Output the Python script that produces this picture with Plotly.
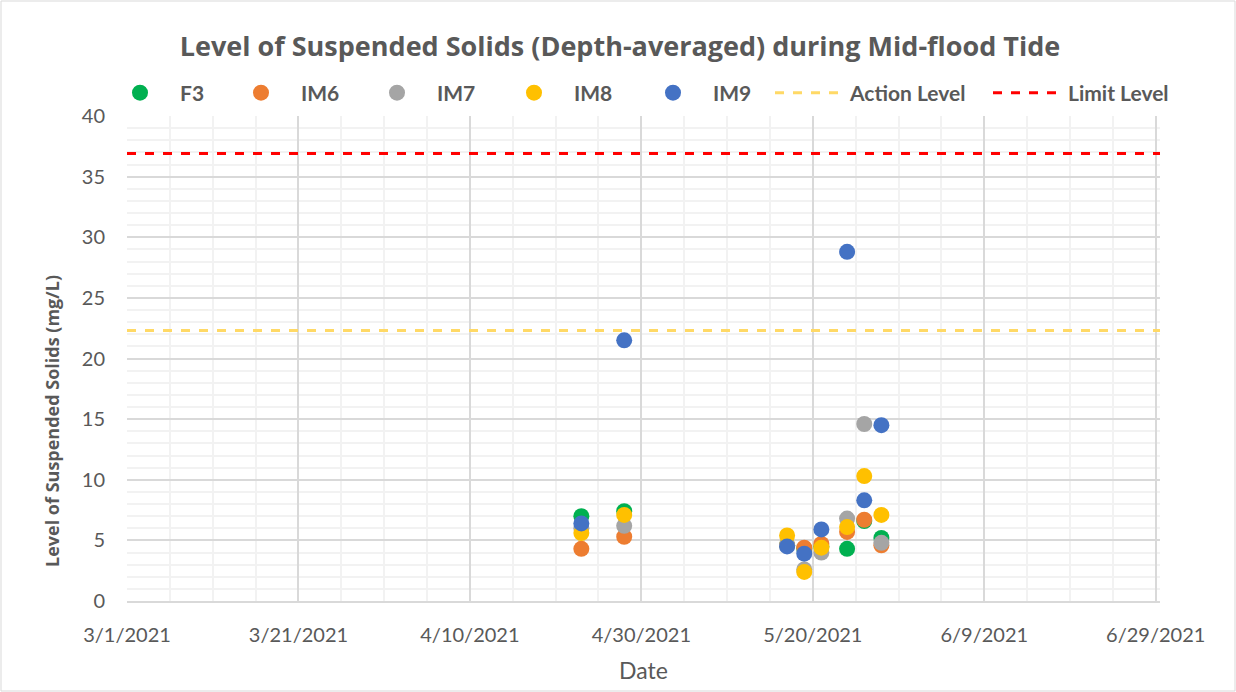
import plotly.graph_objects as go

dates = ["2021-04-23", "2021-04-28", "2021-05-17", "2021-05-19", "2021-05-21",
         "2021-05-24", "2021-05-26", "2021-05-28"]
f3 = [7.0, 7.4, 4.6, 4.3, 4.5, 4.3, 6.6, 5.2]
im6 = [4.3, 5.3, 4.6, 4.4, 4.7, 5.7, 6.7, 4.6]
im7 = [6.0, 6.2, 4.6, 2.6, 4.0, 6.8, 14.6, 4.8]
im8 = [5.6, 7.1, 5.4, 2.4, 4.4, 6.1, 10.3, 7.1]
im9 = [6.4, 21.5, 4.5, 3.9, 5.9, 28.8, 8.3, 14.5]
action_level = 22.3
limit_level = 36.9

x_start = "2021-03-01"
x_end = "2021-06-29 12:00"
tick_dates = ["2021-03-01", "2021-03-21", "2021-04-10", "2021-04-30",
              "2021-05-20", "2021-06-09", "2021-06-29"]
tick_labels = ["3/1/2021", "3/21/2021", "4/10/2021", "4/30/2021",
               "5/20/2021", "6/9/2021", "6/29/2021"]

series = [("F3", f3, "#00B050"), ("IM6", im6, "#ED7D31"), ("IM7", im7, "#A5A5A5"),
          ("IM8", im8, "#FFC000"), ("IM9", im9, "#4472C4")]

LATO = "Lato, 'Liberation Sans', sans-serif"
OPEN = "'Open Sans', 'Liberation Sans', sans-serif"
GREY = "#595959"

L, R, T, B = 127, 76, 116, 91
W, H = 1236, 692
pw, ph = W - L - R, H - T - B

# legend text starting pixel positions (layout only)
legend_text_px = [180, 301, 437, 574, 713, 850, 1068]
ITEMW = 70
legend_names = ["legend", "legend2", "legend3", "legend4", "legend5", "legend6", "legend7"]

fig = go.Figure()
for i, (name, vals, col) in enumerate(series):
    fig.add_trace(go.Scatter(x=dates, y=vals, mode="markers", name=name, legend=legend_names[i],
                             marker=dict(color=col, size=16, line=dict(width=0))))
fig.add_trace(go.Scatter(x=[x_start, x_end], y=[action_level, action_level], mode="lines",
                         name="Action Level", legend=legend_names[5],
                         line=dict(color="#FFD966", width=3, dash="dash")))
fig.add_trace(go.Scatter(x=[x_start, x_end], y=[limit_level, limit_level], mode="lines",
                         name="Limit Level", legend=legend_names[6],
                         line=dict(color="#FF0000", width=3, dash="dash")))

legend_y = 1 + (T - 93) / ph
for i, ln in enumerate(legend_names):
    x_px = legend_text_px[i] - (ITEMW + 10)
    fig.update_layout({ln: dict(
        orientation="h", x=(x_px - L) / pw, xanchor="left", y=legend_y, yanchor="middle",
        font=dict(size=21, color=GREY, family=LATO, weight="bold"), itemwidth=ITEMW,
        bgcolor="rgba(0,0,0,0)", borderwidth=0)})

fig.update_layout(
    width=W, height=H,
    margin=dict(l=L, r=R, t=T, b=B),
    paper_bgcolor="white", plot_bgcolor="white",
    font=dict(family=LATO, color=GREY, size=20),
    title=dict(text="<b>Level of Suspended Solids (Depth-averaged) during Mid-flood Tide</b>",
               x=(620 - L) / pw, xref="paper", xanchor="center", y=1 - 47 / H, yanchor="middle",
               font=dict(size=27, color=GREY, family=OPEN)),
    showlegend=True,
    xaxis=dict(
        type="date", range=[x_start, x_end],
        tickmode="array", tickvals=tick_dates, ticktext=tick_labels,
        showgrid=True, gridcolor="#D9D9D9", gridwidth=1.5,
        minor=dict(dtick=5 * 86400000, tick0=x_start, showgrid=True,
                   gridcolor="#F2F2F2", gridwidth=1.5),
        showline=True, linecolor="#D9D9D9", linewidth=1.5,
        zeroline=False, ticks="", ticklabelstandoff=15,
        tickfont=dict(size=20, color=GREY, family=LATO),
        title=dict(text="Date", font=dict(size=23, color=GREY, family=LATO), standoff=18),
    ),
    yaxis=dict(
        range=[0, 40], dtick=5, tick0=0,
        showgrid=True, gridcolor="#D9D9D9", gridwidth=1.5,
        minor=dict(dtick=1, showgrid=True, gridcolor="#F2F2F2", gridwidth=1.5),
        showline=False, zeroline=False, ticks="", ticklabelstandoff=21,
        tickfont=dict(size=20, color=GREY, family=LATO),
    ),
)

fig.add_annotation(text="<b>Level of Suspended Solids (mg/L)</b>", textangle=-90,
                   xref="paper", yref="paper", x=(52 - L) / pw, y=(T + ph - 421) / ph,
                   xanchor="center", yanchor="middle", showarrow=False,
                   font=dict(size=18, color=GREY, family=OPEN))

fig.add_shape(type="rect", xref="paper", yref="paper",
              x0=-(L - 1) / pw, x1=1 + (R - 1) / pw,
              y0=-(B - 1) / ph, y1=1 + (T - 1) / ph,
              line=dict(color="#D9D9D9", width=1), layer="below")

fig.write_html("out.html", config={"displayModeBar": False},
               post_script="document.body.style.margin='0px';")
